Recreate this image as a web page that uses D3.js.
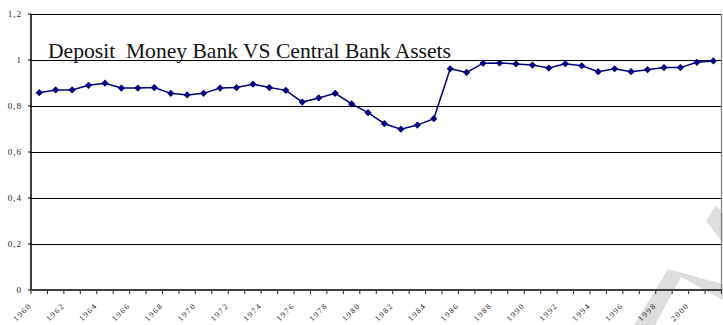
<!DOCTYPE html>
<html>
<head>
<meta charset="utf-8">
<script src="https://cdn.jsdelivr.net/npm/d3@7"></script>
<style>
  html, body { margin: 0; padding: 0; background: #fff; }
  svg { display: block; }
</style>
</head>
<body>
<script>
// Ratio of deposit money bank assets to deposit money bank plus central bank assets
const years = d3.range(1960, 2002);
const ratio = [
  0.858, 0.870, 0.870, 0.890, 0.899, 0.878, 0.878, 0.880, 0.855, 0.848,
  0.855, 0.878, 0.880, 0.895, 0.880, 0.868, 0.817, 0.835, 0.855, 0.809,
  0.771, 0.723, 0.699, 0.717, 0.745, 0.962, 0.946, 0.986, 0.987, 0.983,
  0.978, 0.965, 0.984, 0.975, 0.949, 0.962, 0.949, 0.958, 0.967, 0.967,
  0.990, 0.996
];
const yTicks = [0, 0.2, 0.4, 0.6, 0.8, 1, 1.2];
const yTickLabels = ["0", "0,2", "0,4", "0,6", "0,8", "1", "1,2"];
const xLabelYears = years.filter((y, i) => i % 2 === 0);
const title = "Deposit  Money Bank VS Central Bank Assets";

const W = 723, H = 325;
const plot = { left: 31, right: 721.5, top: 14, bottom: 290 };

const svg = d3.select("body").append("svg")
  .attr("width", W).attr("height", H);

const x = d3.scaleBand().domain(years).range([plot.left, plot.right]).padding(0);
const y = d3.scaleLinear().domain([0, 1.2]).range([plot.bottom, plot.top]);

// light diagonal watermark strokes
const wm = svg.append("g").attr("fill", "#dedede");
[
  [[634, 325], [655, 325], [681, 277], [668, 269]],
  [[668, 269], [681, 277], [723, 300], [723, 284]],
  [[706, 221], [716, 205], [723, 214], [723, 243]]
].forEach(p => wm.append("polygon").attr("points", p.map(d => d.join(",")).join(" ")));

// horizontal gridlines
svg.append("g").selectAll("line")
  .data(yTicks.filter(v => v > 0))
  .join("line")
  .attr("x1", plot.left).attr("x2", plot.right)
  .attr("y1", d => y(d)).attr("y2", d => y(d))
  .attr("stroke", "#000").attr("stroke-width", 1)
  .attr("shape-rendering", "crispEdges");

// right border of the plot area
svg.append("line")
  .attr("x1", plot.right).attr("x2", plot.right)
  .attr("y1", plot.top).attr("y2", plot.bottom)
  .attr("stroke", "#808080").attr("stroke-width", 1.2);

// y axis
const yAxis = svg.append("g");
yAxis.append("line")
  .attr("x1", plot.left).attr("x2", plot.left)
  .attr("y1", plot.top).attr("y2", plot.bottom)
  .attr("stroke", "#000").attr("stroke-width", 1.5);
yAxis.selectAll("line.tick")
  .data(yTicks)
  .join("line").attr("class", "tick")
  .attr("x1", plot.left - 3).attr("x2", plot.left)
  .attr("y1", d => y(d)).attr("y2", d => y(d))
  .attr("stroke", "#000").attr("stroke-width", 1);
yAxis.selectAll("text")
  .data(yTicks)
  .join("text")
  .attr("x", 22).attr("y", d => y(d))
  .attr("dy", "0.32em")
  .attr("text-anchor", "end")
  .attr("font-family", "'Liberation Serif', 'Times New Roman', serif")
  .attr("font-size", 9)
  .attr("letter-spacing", 1)
  .attr("fill", "#222")
  .text((d, i) => yTickLabels[i]);

// x axis
const xAxis = svg.append("g");
const boundaries = years.map(yr => x(yr)).concat([plot.right]);
xAxis.selectAll("line.tick")
  .data(boundaries)
  .join("line").attr("class", "tick")
  .attr("x1", d => d).attr("x2", d => d)
  .attr("y1", plot.bottom).attr("y2", plot.bottom + 4)
  .attr("stroke", "#222").attr("stroke-width", 1);
xAxis.append("line")
  .attr("x1", plot.left).attr("x2", plot.right)
  .attr("y1", plot.bottom).attr("y2", plot.bottom)
  .attr("stroke", "#404040").attr("stroke-width", 2);
xAxis.selectAll("text")
  .data(xLabelYears)
  .join("text")
  .attr("transform", d => `translate(${x(d) + x.bandwidth() / 2 - 9},${plot.bottom + 14}) rotate(-45)`)
  .attr("text-anchor", "end")
  .attr("dy", "0.35em")
  .attr("font-family", "'Liberation Serif', 'Times New Roman', serif")
  .attr("font-size", 8)
  .attr("letter-spacing", 1.6)
  .attr("fill", "#222")
  .text(d => d);

// series line and diamond markers
const cx = yr => x(yr) + x.bandwidth() / 2;
const data = years.map((yr, i) => ({ yr, v: ratio[i] }));

svg.append("path")
  .datum(data)
  .attr("fill", "none")
  .attr("stroke", "#000080")
  .attr("stroke-width", 1.5)
  .attr("d", d3.line().x(d => cx(d.yr)).y(d => y(d.v)));

const diamond = d3.symbol().type(d3.symbolSquare).size(26);
svg.append("g").selectAll("path")
  .data(data)
  .join("path")
  .attr("transform", d => `translate(${cx(d.yr)},${y(d.v)}) rotate(45)`)
  .attr("d", diamond)
  .attr("fill", "#000080");

// chart title inside the plot area
svg.append("text")
  .attr("x", 48).attr("y", 58)
  .attr("font-family", "'Liberation Serif', 'Times New Roman', serif")
  .attr("font-size", 21.5)
  .attr("fill", "#111")
  .attr("textLength", 403)
  .attr("lengthAdjust", "spacingAndGlyphs")
  .style("white-space", "pre")
  .text(title);
</script>
</body>
</html>
